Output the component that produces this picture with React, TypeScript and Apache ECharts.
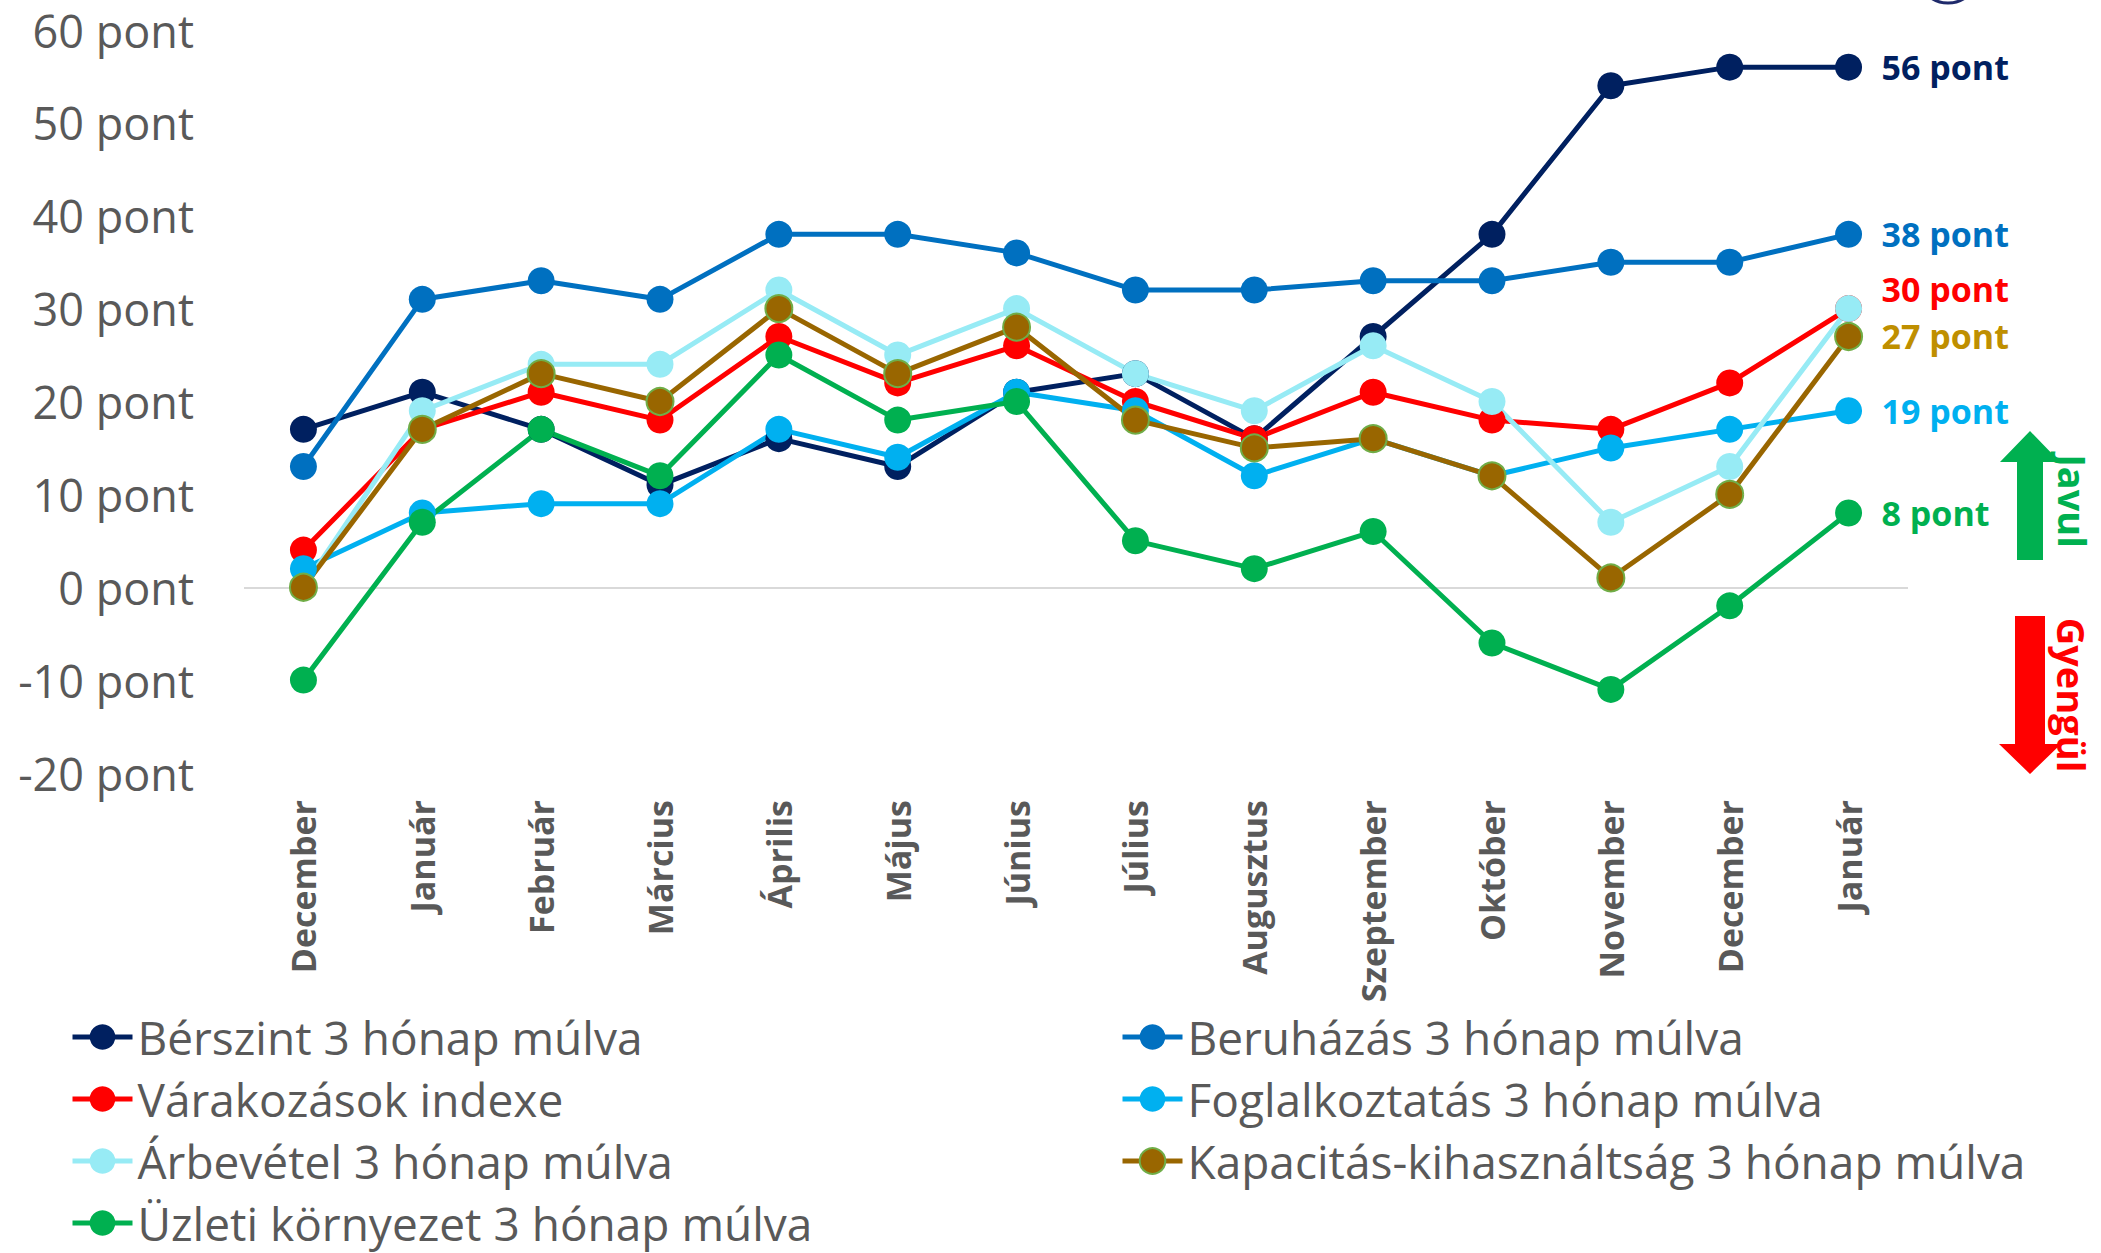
import React, { useEffect, useRef } from "react";
import * as echarts from "echarts";

const categories = [
  "December", "Január", "Február", "Március", "Április", "Május", "Június",
  "Július", "Augusztus", "Szeptember", "Október", "November", "December", "Január",
];

const seriesNames = [
  "Bérszint 3 hónap múlva",
  "Beruházás 3 hónap múlva",
  "Várakozások indexe",
  "Foglalkoztatás 3 hónap múlva",
  "Árbevétel 3 hónap múlva",
  "Kapacitás-kihasználtság 3 hónap múlva",
  "Üzleti környezet 3 hónap múlva",
];

const berszint = [17, 21, 17, 11, 16, 13, 21, 23, 16, 27, 38, 54, 56, 56];
const beruhazas = [13, 31, 33, 31, 38, 38, 36, 32, 32, 33, 33, 35, 35, 38];
const varakozasok = [4, 17, 21, 18, 27, 22, 26, 20, 16, 21, 18, 17, 22, 30];
const foglalkoztatas = [2, 8, 9, 9, 17, 14, 21, 19, 12, 16, 12, 15, 17, 19];
const arbevetel = [0, 19, 24, 24, 32, 25, 30, 23, 19, 26, 20, 7, 13, 30];
const kapacitas = [0, 17, 23, 20, 30, 23, 28, 18, 15, 16, 12, 1, 10, 27];
const uzleti = [-10, 7, 17, 12, 25, 18, 20, 5, 2, 6, -6, -11, -2, 8];

const seriesValues = [berszint, beruhazas, varakozasok, foglalkoztatas, arbevetel, kapacitas, uzleti];
const lineColors = ["#002060", "#0070C0", "#FF0000", "#00B0F0", "#97EBF5", "#996600", "#00B050"];
const endLabelColors = ["#002060", "#0070C0", "#FF0000", "#00B0F0", null, "#BF8F00", "#00B050"];
const endLabelOffsets = [[0, 0], [0, 0], [0, -20], [0, 0], [0, 0], [0, 0], [0, 0]];

const yTicks = { min: -20, max: 60, interval: 10 };
const leftLegend = [seriesNames[0], seriesNames[2], seriesNames[4], seriesNames[6]];
const rightLegend = [seriesNames[1], seriesNames[3], seriesNames[5]];

const FONT = "'Open Sans', 'Noto Sans', sans-serif";

export default function App() {
  const ref = useRef<HTMLDivElement>(null);

  useEffect(() => {
    if (!ref.current) return;
    const chart = echarts.init(ref.current, null, { renderer: "svg" });

    const series: any[] = seriesValues.map((vals, i) => {
      const lc = endLabelColors[i];
      const s: any = {
        name: seriesNames[i],
        type: "line",
        data: vals,
        symbol: "circle",
        symbolSize: 27,
        lineStyle: { color: lineColors[i], width: 5 },
        itemStyle:
          i === 5
            ? { color: lineColors[i], borderColor: "#70AD47", borderWidth: 2 }
            : { color: lineColors[i] },
        emphasis: { disabled: true },
        endLabel: lc
          ? {
              show: true,
              formatter: () => `${vals[vals.length - 1]} pont`,
              color: lc,
              fontFamily: FONT,
              fontWeight: "bold",
              fontSize: 34,
              distance: 33,
              offset: endLabelOffsets[i],
            }
          : { show: false },
      };
      if (i === 0) {
        s.markLine = {
          silent: true,
          symbol: "none",
          label: { show: false },
          lineStyle: { color: "#D9D9D9", type: "solid", width: 2 },
          data: [{ yAxis: 0 }],
          z: 0,
        };
      }
      return s;
    });

    const legendCommon = {
      orient: "vertical",
      top: 1012,
      height: 250,
      padding: 0,
      itemWidth: 60,
      itemHeight: 32,
      itemGap: 12,
      lineStyle: { width: 5 },
      textStyle: { fontSize: 46, lineHeight: 50, color: "#595959", fontFamily: FONT },
      selectedMode: false,
    };

    chart.setOption({
      animation: false,
      backgroundColor: "#ffffff",
      grid: { left: 244, top: 30, width: 1664, height: 743, containLabel: false },
      xAxis: {
        type: "category",
        data: categories,
        boundaryGap: true,
        axisLine: { show: false },
        axisTick: { show: false },
        axisLabel: {
          rotate: 90,
          interval: 0,
          margin: 27,
          color: "#595959",
          fontFamily: FONT,
          fontWeight: "bold",
          fontSize: 34,
        },
      },
      yAxis: {
        type: "value",
        min: yTicks.min,
        max: yTicks.max,
        interval: yTicks.interval,
        splitLine: { show: false },
        axisLine: { show: false },
        axisTick: { show: false },
        axisLabel: {
          formatter: (v: number) => `${v} pont`,
          color: "#595959",
          fontFamily: FONT,
          fontSize: 45,
          margin: 50,
        },
      },
      legend: [
        { ...legendCommon, left: 70, data: leftLegend },
        { ...legendCommon, left: 1120, data: rightLegend },
      ],
      series,
      graphic: [
        {
          type: "ellipse",
          shape: { cx: 1948, cy: -26, rx: 30, ry: 29 },
          style: { fill: "#ffffff", stroke: "#1F2A6B", lineWidth: 3 },
        },
        {
          type: "polygon",
          shape: {
            points: [
              [2030, 431], [2060, 462], [2043, 462], [2043, 560],
              [2017, 560], [2017, 462], [2000, 462],
            ],
          },
          style: { fill: "#00B050" },
        },
        {
          type: "polygon",
          shape: {
            points: [
              [2015, 616], [2045, 616], [2045, 744], [2061, 744],
              [2030, 774], [1999, 744], [2015, 744],
            ],
          },
          style: { fill: "#FF0000" },
        },
        {
          type: "text",
          x: 2073,
          y: 501,
          rotation: -Math.PI / 2,
          style: {
            text: "Javul",
            fill: "#00B050",
            font: `bold 38px ${FONT}`,
            align: "center",
            verticalAlign: "middle",
          },
        },
        {
          type: "text",
          x: 2072,
          y: 695,
          rotation: -Math.PI / 2,
          style: {
            text: "Gyengül",
            fill: "#FF0000",
            font: `bold 38px ${FONT}`,
            align: "center",
            verticalAlign: "middle",
          },
        },
      ],
    });

    return () => chart.dispose();
  }, []);

  return (
    <div
      ref={ref}
      style={{ position: "absolute", left: 0, top: 0, width: 2101, height: 1253 }}
    />
  );
}
